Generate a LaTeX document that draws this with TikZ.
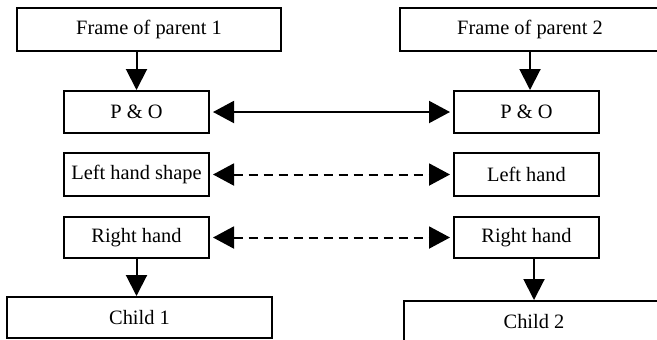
\documentclass[tikz,border=0pt]{standalone}
\usepackage{fontspec}
\setmainfont{Liberation Serif}
\usetikzlibrary{arrows.meta}
\begin{document}
\begin{tikzpicture}[x=0.5pt,y=-0.5pt,
  box/.style={draw,line width=1pt,inner sep=0pt,font=\fontsize{10.2}{12}\selectfont},
  arr/.style={line width=1pt,-{Triangle[length=10.5pt,width=10.5pt]}},
  darr/.style={line width=1pt,{Triangle[length=10.5pt,width=11pt]}-{Triangle[length=10.5pt,width=11pt]},shorten <=1.5pt,shorten >=1.5pt},
  dsh/.style={dash pattern=on 4.5pt off 3pt}]
\useasboundingbox (0,0) rectangle (657,339);
\clip (0,0) rectangle (657,339);
\node[box,minimum width=132pt,minimum height=21.5pt] (f1) at (149,29.5) {Frame of parent 1};
\node[box,minimum width=130pt,minimum height=21.5pt] (f2) at (530,29.5) {Frame of parent 2};
\node[box,minimum width=72.5pt,minimum height=21pt] (po1) at (136.5,112) {P \& O};
\node[box,minimum width=72.5pt,minimum height=21pt] (po2) at (526.5,112) {P \& O};
\node[box,minimum width=72.5pt,minimum height=21.5pt] (lhs) at (136.5,174.5) {Left hand shape};
\node[box,minimum width=72.5pt,minimum height=21.5pt] (lh2) at (526.5,174.5) {Left hand};
\node[box,minimum width=72.5pt,minimum height=20.5pt] (rh1) at (136.5,237.5) {Right hand};
\node[box,minimum width=72.5pt,minimum height=20.5pt] (rh2) at (526.5,237.5) {Right hand};
\node[box,minimum width=132.5pt,minimum height=20.5pt] (c1) at (139.5,317.5) {Child 1};
\node[box,minimum width=130pt,minimum height=20.5pt] (c2) at (534,321.5) {Child 2};
\draw[arr] (po1.north |- f1.south) -- (po1.north);
\draw[arr] (f2.south) -- (f2.south |- po2.north);
\draw[darr] (po1.east) -- (po2.west);
\draw[darr,dsh] (lhs.east) -- (lh2.west);
\draw[darr,dsh] (rh1.east) -- (rh2.west);
\draw[arr] (rh1.south) -- (rh1.south |- c1.north);
\draw[arr] (rh2.south -| c2.north) -- (c2.north);
\end{tikzpicture}
\end{document}
